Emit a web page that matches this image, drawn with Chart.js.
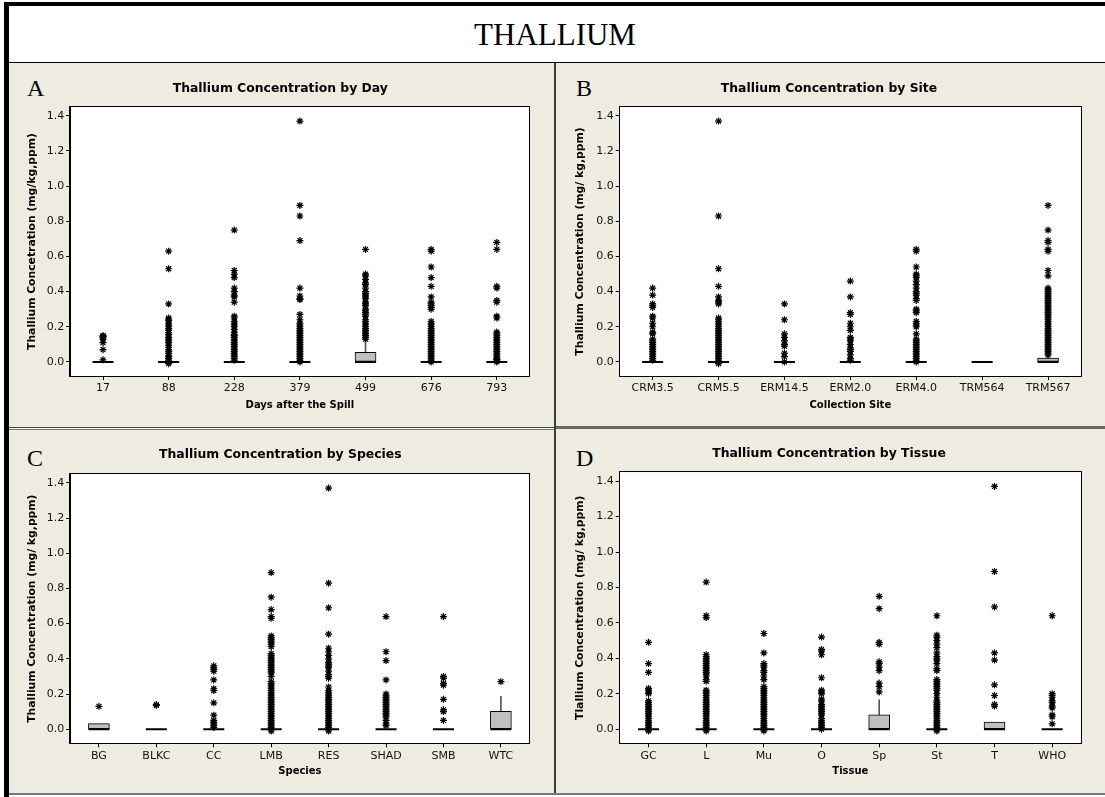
<!DOCTYPE html>
<html>
<head>
<meta charset="utf-8">
<title>Thallium</title>
<script src="https://cdn.jsdelivr.net/npm/chart.js@4.4.0/dist/chart.umd.min.js"></script>
<style>
  html, body { margin: 0; padding: 0; background: #ffffff; }
  #page { position: relative; width: 1105px; height: 797px; overflow: hidden; background: #ffffff; }
  .abs { position: absolute; }
  .beige { background: #eeebe1; }
  .serif { font-family: "Liberation Serif", "DejaVu Serif", serif; color: #000; line-height: 1; white-space: nowrap; }
  canvas { position: absolute; }
</style>
</head>
<body>
<div id="page">
  <!-- frame -->
  <div class="abs" style="left:4px;top:2px;width:1101px;height:4px;background:#000"></div>
  <div class="abs" style="left:4px;top:2px;width:5px;height:795px;background:#000"></div>
  <div class="abs serif" style="left:5px;top:19px;width:1100px;text-align:center;font-size:31px;line-height:31px">THALLIUM</div>
  <div class="abs" style="left:9px;top:62px;width:1096px;height:1px;background:#000"></div>
  <div class="abs beige" style="left:9px;top:63px;width:1096px;height:730px"></div>
  <div class="abs" style="left:554px;top:63px;width:2px;height:730px;background:#3c3c3c"></div>
  <div class="abs" style="left:9px;top:427px;width:545px;height:1px;background:#444"></div>
  <div class="abs" style="left:9px;top:428px;width:545px;height:1px;background:#fff"></div>
  <div class="abs" style="left:9px;top:429px;width:545px;height:1px;background:#777"></div>
  <div class="abs" style="left:556px;top:426px;width:549px;height:3px;background:#6a6a6a"></div>
  <div class="abs" style="left:9px;top:793px;width:1096px;height:2px;background:#777"></div>

  <div class="abs serif" style="left:27px;top:76px;font-size:24px;line-height:24px">A</div>
  <div class="abs serif" style="left:576px;top:76px;font-size:24px;line-height:24px">B</div>
  <div class="abs serif" style="left:27px;top:446px;font-size:24px;line-height:24px">C</div>
  <div class="abs serif" style="left:576px;top:446px;font-size:24px;line-height:24px">D</div>

  <canvas id="chartA" width="546" height="364" style="left:9px;top:63px"></canvas>
  <canvas id="chartB" width="549" height="364" style="left:556px;top:63px"></canvas>
  <canvas id="chartC" width="546" height="363" style="left:9px;top:430px"></canvas>
  <canvas id="chartD" width="549" height="363" style="left:556px;top:430px"></canvas>
</div>

<script>
// ---- Panel A: by day ----
const dayLabels = ['17', '88', '228', '379', '499', '676', '793'];
const dayQ1 = [0, 0, 0, 0, 0, 0, 0];
const dayMedian = [0, 0, 0, 0, 0, 0, 0];
const dayQ3 = [0, 0, 0, 0, 0.055, 0, 0];
const dayWhiskerHi = [0, 0, 0, 0, 0.13, 0, 0];
const dayOutliers = [
    [0.15, 0.145, 0.14, 0.13, 0.11, 0.07, 0.012],
    [0.63, 0.53, 0.33, 0.25, 0.24, 0.235, 0.22, 0.21, 0.2, 0.19, 0.18, 0.165, 0.155, 0.14, 0.13, 0.12, 0.11, 0.095, 0.085, 0.07, 0.06, 0.05, 0.035, 0.03, 0.02, 0.01, 0.0, -0.01],
    [0.75, 0.52, 0.5, 0.48, 0.42, 0.4, 0.38, 0.37, 0.34, 0.26, 0.25, 0.23, 0.22, 0.21, 0.2, 0.185, 0.17, 0.155, 0.15, 0.14, 0.13, 0.12, 0.11, 0.1, 0.09, 0.08, 0.07, 0.06, 0.05, 0.04, 0.03, 0.02, 0.01],
    [1.37, 0.89, 0.83, 0.69, 0.42, 0.375, 0.36, 0.355, 0.27, 0.24, 0.22, 0.21, 0.2, 0.19, 0.18, 0.17, 0.16, 0.15, 0.14, 0.13, 0.12, 0.11, 0.1, 0.09, 0.08, 0.07, 0.06, 0.05, 0.04, 0.03, 0.02, 0.01, 0.0],
    [0.64, 0.5, 0.49, 0.47, 0.45, 0.44, 0.42, 0.4, 0.39, 0.38, 0.37, 0.36, 0.34, 0.33, 0.32, 0.3, 0.29, 0.28, 0.27, 0.26, 0.24, 0.23, 0.22, 0.21, 0.2, 0.19, 0.18, 0.17, 0.16, 0.15, 0.14, 0.13],
    [0.64, 0.63, 0.54, 0.48, 0.43, 0.37, 0.34, 0.33, 0.32, 0.31, 0.3, 0.23, 0.22, 0.21, 0.2, 0.19, 0.18, 0.17, 0.16, 0.15, 0.14, 0.13, 0.12, 0.11, 0.1, 0.09, 0.08, 0.07, 0.06, 0.05, 0.04, 0.03, 0.02, 0.01, 0.0],
    [0.68, 0.64, 0.43, 0.42, 0.35, 0.34, 0.26, 0.25, 0.17, 0.16, 0.15, 0.14, 0.13, 0.12, 0.11, 0.1, 0.09, 0.08, 0.07, 0.06, 0.05, 0.04, 0.03, 0.02, 0.015, 0.01, 0.0]
];

// ---- Panel B: by site ----
const siteLabels = ['CRM3.5', 'CRM5.5', 'ERM14.5', 'ERM2.0', 'ERM4.0', 'TRM564', 'TRM567'];
const siteQ1 = [0, 0, 0, 0, 0, 0, 0];
const siteMedian = [0, 0, 0, 0, 0, 0, 0];
const siteQ3 = [0, 0, 0, 0, 0, 0, 0.022];
const siteWhiskerHi = [0, 0, 0, 0, 0, 0, 0.04];
const siteOutliers = [
    [0.42, 0.38, 0.33, 0.32, 0.31, 0.26, 0.25, 0.22, 0.2, 0.17, 0.16, 0.13, 0.12, 0.11, 0.1, 0.09, 0.08, 0.07, 0.06, 0.05, 0.04, 0.03, 0.02, 0.01],
    [1.37, 0.83, 0.53, 0.43, 0.37, 0.35, 0.34, 0.33, 0.25, 0.24, 0.23, 0.22, 0.21, 0.2, 0.19, 0.18, 0.17, 0.16, 0.15, 0.14, 0.13, 0.12, 0.11, 0.1, 0.09, 0.08, 0.07, 0.06, 0.05, 0.04, 0.03, 0.02, 0.01, 0.0, -0.01],
    [0.33, 0.24, 0.16, 0.14, 0.12, 0.1, 0.09, 0.05, 0.03, 0.0],
    [0.46, 0.37, 0.28, 0.27, 0.22, 0.2, 0.18, 0.14, 0.13, 0.12, 0.1, 0.08, 0.07, 0.06, 0.04, 0.02, 0.01],
    [0.64, 0.63, 0.54, 0.5, 0.49, 0.48, 0.46, 0.44, 0.42, 0.4, 0.39, 0.38, 0.36, 0.35, 0.3, 0.29, 0.28, 0.23, 0.22, 0.21, 0.2, 0.16, 0.13, 0.12, 0.11, 0.1, 0.09, 0.08, 0.07, 0.06, 0.05, 0.04, 0.03, 0.02, 0.01, 0.0],
    [],
    [0.89, 0.75, 0.69, 0.68, 0.64, 0.63, 0.52, 0.49, 0.42, 0.41, 0.4, 0.39, 0.38, 0.37, 0.36, 0.35, 0.34, 0.33, 0.32, 0.31, 0.3, 0.29, 0.28, 0.27, 0.26, 0.25, 0.24, 0.23, 0.22, 0.21, 0.2, 0.19, 0.18, 0.17, 0.16, 0.15, 0.14, 0.13, 0.12, 0.11, 0.1, 0.09, 0.08, 0.07, 0.06, 0.05, 0.04]
];

// ---- Panel C: by species ----
const speciesLabels = ['BG', 'BLKC', 'CC', 'LMB', 'RES', 'SHAD', 'SMB', 'WTC'];
const speciesQ1 = [0, 0, 0, 0, 0, 0, 0, 0];
const speciesMedian = [0, 0, 0, 0, 0, 0, 0, 0];
const speciesQ3 = [0.032, 0, 0, 0, 0, 0, 0, 0.102];
const speciesWhiskerHi = [0.032, 0, 0, 0, 0, 0, 0, 0.187];
const speciesOutliers = [
    [0.13],
    [0.14, 0.135],
    [0.36, 0.35, 0.34, 0.33, 0.28, 0.23, 0.22, 0.15, 0.08, 0.05, 0.04, 0.03, 0.02, 0.01],
    [0.89, 0.75, 0.68, 0.64, 0.63, 0.53, 0.52, 0.51, 0.5, 0.49, 0.48, 0.47, 0.43, 0.42, 0.41, 0.4, 0.39, 0.38, 0.37, 0.36, 0.35, 0.34, 0.33, 0.32, 0.3, 0.27, 0.26, 0.25, 0.24, 0.23, 0.22, 0.21, 0.2, 0.19, 0.18, 0.17, 0.16, 0.15, 0.14, 0.13, 0.12, 0.11, 0.1, 0.09, 0.08, 0.07, 0.06, 0.05, 0.04, 0.03, 0.02, 0.01, 0.0, -0.01],
    [1.37, 0.83, 0.69, 0.54, 0.46, 0.44, 0.42, 0.4, 0.38, 0.37, 0.36, 0.35, 0.33, 0.31, 0.3, 0.29, 0.24, 0.22, 0.21, 0.2, 0.19, 0.18, 0.17, 0.16, 0.15, 0.14, 0.13, 0.12, 0.11, 0.1, 0.09, 0.08, 0.07, 0.06, 0.05, 0.04, 0.03, 0.02, 0.01, 0.0, -0.01],
    [0.64, 0.44, 0.39, 0.28, 0.2, 0.19, 0.18, 0.17, 0.16, 0.15, 0.14, 0.13, 0.12, 0.11, 0.1, 0.09, 0.08, 0.07, 0.05, 0.03, 0.02],
    [0.64, 0.3, 0.29, 0.26, 0.25, 0.17, 0.11, 0.1, 0.05],
    [0.27]
];

// ---- Panel D: by tissue ----
const tissueLabels = ['GC', 'L', 'Mu', 'O', 'Sp', 'St', 'T', 'WHO'];
const tissueQ1 = [0, 0, 0, 0, 0, 0, 0, 0];
const tissueMedian = [0, 0, 0, 0, 0, 0, 0, 0];
const tissueQ3 = [0, 0, 0, 0, 0.081, 0, 0.04, 0];
const tissueWhiskerHi = [0, 0, 0, 0, 0.166, 0, 0.04, 0];
const tissueOutliers = [
    [0.49, 0.37, 0.32, 0.23, 0.22, 0.21, 0.2, 0.16, 0.15, 0.14, 0.13, 0.12, 0.11, 0.1, 0.09, 0.08, 0.07, 0.06, 0.05, 0.04, 0.03, 0.02, 0.01, 0.0, -0.01],
    [0.83, 0.64, 0.63, 0.42, 0.41, 0.4, 0.39, 0.38, 0.37, 0.36, 0.35, 0.34, 0.33, 0.32, 0.31, 0.3, 0.28, 0.27, 0.22, 0.21, 0.2, 0.19, 0.18, 0.17, 0.16, 0.15, 0.14, 0.13, 0.12, 0.11, 0.1, 0.09, 0.08, 0.07, 0.06, 0.05, 0.04, 0.03, 0.02, 0.01, 0.0, -0.01],
    [0.54, 0.43, 0.37, 0.36, 0.35, 0.33, 0.32, 0.3, 0.28, 0.24, 0.23, 0.22, 0.21, 0.2, 0.19, 0.18, 0.17, 0.16, 0.15, 0.14, 0.13, 0.12, 0.11, 0.1, 0.09, 0.08, 0.07, 0.06, 0.05, 0.04, 0.03, 0.02, 0.01, 0.0, -0.01],
    [0.52, 0.45, 0.44, 0.42, 0.29, 0.22, 0.21, 0.2, 0.17, 0.16, 0.14, 0.13, 0.12, 0.11, 0.1, 0.09, 0.08, 0.06, 0.05, 0.04, 0.03, 0.02, 0.01, 0.0],
    [0.75, 0.68, 0.49, 0.48, 0.38, 0.37, 0.35, 0.33, 0.26, 0.24, 0.21],
    [0.64, 0.53, 0.52, 0.5, 0.48, 0.46, 0.43, 0.41, 0.4, 0.39, 0.37, 0.34, 0.33, 0.28, 0.27, 0.26, 0.25, 0.24, 0.23, 0.22, 0.2, 0.18, 0.16, 0.15, 0.14, 0.13, 0.12, 0.11, 0.1, 0.09, 0.08, 0.07, 0.06, 0.05, 0.04, 0.03, 0.02, 0.01, 0.0, -0.01],
    [1.37, 0.89, 0.69, 0.43, 0.39, 0.25, 0.19, 0.14, 0.13],
    [0.64, 0.2, 0.19, 0.18, 0.16, 0.15, 0.13, 0.12, 0.08, 0.07, 0.03]
];

const yTicks = { min: -0.08, max: 1.45, step: 0.2 };
const FONT = '"DejaVu Sans", Verdana, sans-serif';

// white plot area + black frame around it
const plotFrame = {
    id: 'plotFrame',
    beforeDraw(chart) {
        const a = chart.chartArea, ctx = chart.ctx;
        ctx.save();
        ctx.fillStyle = '#ffffff';
        ctx.fillRect(a.left, a.top, a.right - a.left, a.bottom - a.top);
        ctx.restore();
    },
    afterDraw(chart) {
        const a = chart.chartArea, ctx = chart.ctx;
        ctx.save();
        ctx.strokeStyle = '#000';
        ctx.lineWidth = 1;
        ctx.strokeRect(Math.round(a.left) - 0.5, Math.round(a.top) - 0.5,
            Math.round(a.right - a.left) + 1, Math.round(a.bottom - a.top) + 1);
        ctx.restore();
    }
};

function boxPlot(id, g, labels, q1, med, q3, whiskerHi, outliers, title, xTitle, yTitle) {
    const outlierPts = [];
    outliers.forEach((vals, i) => vals.forEach(v => outlierPts.push({ x: labels[i], y: v })));
    const medianPts = labels.map((l, i) => ({ x: l, y: med[i] }));
    const boxes = labels.map((l, i) => [q1[i], q3[i]]);
    const whiskers = labels.map((l, i) => whiskerHi[i] > q3[i] ? [q3[i], whiskerHi[i]] : null);

    const titleLH = 12.4 * 1.2;
    const titlePadTop = g.titleY - titleLH / 2;

    return new Chart(document.getElementById(id), {
        type: 'bar',
        data: {
            labels: labels,
            datasets: [
                {
                    type: 'scatter',
                    data: outlierPts,
                    pointStyle: 'star',
                    pointRadius: 3.5,
                    borderColor: '#000',
                    backgroundColor: '#000',
                    borderWidth: 1.2
                },
                {
                    type: 'scatter',
                    data: medianPts,
                    pointStyle: 'line',
                    pointRadius: 10.5,
                    borderColor: '#000',
                    borderWidth: 2
                },
                {
                    data: boxes,
                    grouped: false,
                    barThickness: 21,
                    backgroundColor: '#c0c0c0',
                    borderColor: '#000',
                    borderWidth: 1,
                    borderSkipped: false
                },
                {
                    data: whiskers,
                    grouped: false,
                    barThickness: 1,
                    backgroundColor: '#555',
                    borderWidth: 0
                }
            ]
        },
        options: {
            responsive: false,
            animation: false,
            events: [],
            layout: { padding: { left: g.padL, right: g.padR, top: 0, bottom: 0 } },
            plugins: {
                legend: { display: false },
                tooltip: { enabled: false },
                title: {
                    display: true,
                    text: title,
                    color: '#000',
                    font: { family: FONT, size: 12.4, weight: 'bold', lineHeight: 1.2 },
                    padding: { top: titlePadTop, bottom: g.plotTop - titleLH - titlePadTop }
                }
            },
            scales: {
                x: {
                    type: 'category',
                    offset: true,
                    grid: { display: true, drawOnChartArea: false, drawTicks: true, tickLength: 4, offset: false, color: '#000' },
                    border: { display: true, color: '#000' },
                    ticks: { color: '#111', font: { family: FONT, size: 11 }, padding: 2, maxRotation: 0, autoSkip: false },
                    title: {
                        display: true, text: xTitle, color: '#000',
                        font: { family: FONT, size: 10, weight: 'bold', lineHeight: 1.2 },
                        padding: { top: 0, bottom: g.xTitleOff - 6 }
                    },
                    afterFit: s => { s.height = g.xAxisH; }
                },
                y: {
                    type: 'linear',
                    min: yTicks.min,
                    max: yTicks.max,
                    grid: { display: true, drawOnChartArea: false, drawTicks: true, tickLength: 4, color: '#000' },
                    border: { display: true, color: '#000' },
                    ticks: {
                        stepSize: yTicks.step, includeBounds: false, color: '#111', padding: 2,
                        font: { family: FONT, size: 11 },
                        callback: v => v.toFixed(1)
                    },
                    title: {
                        display: true, text: yTitle, color: '#000',
                        font: { family: FONT, size: 10.8, weight: 'bold', lineHeight: 0.2 },
                        padding: { top: g.yTitleOff - 1, bottom: 0 }
                    },
                    afterFit: s => { s.width = g.yAxisW; }
                }
            }
        },
        plugins: [plotFrame]
    });
}

const geomA = { padL: 22, padR: 25.4, yAxisW: 39.2, yTitleOff: 1, titleY: 25.3, plotTop: 44, xAxisH: 51, xTitleOff: 22 };
const geomB = { padL: 21, padR: 24, yAxisW: 42.7, yTitleOff: 3.6, titleY: 25.3, plotTop: 44, xAxisH: 51, xTitleOff: 22 };
const geomC = { padL: 22, padR: 25.4, yAxisW: 39.2, yTitleOff: 1, titleY: 25, plotTop: 44, xAxisH: 49.7, xTitleOff: 21.3 };
const geomD = { padL: 21, padR: 24, yAxisW: 42.7, yTitleOff: 3.6, titleY: 24, plotTop: 42.3, xAxisH: 49.7, xTitleOff: 21.3 };

boxPlot('chartA', geomA, dayLabels, dayQ1, dayMedian, dayQ3, dayWhiskerHi, dayOutliers,
    'Thallium Concentration by Day', 'Days after the Spill', 'Thallium Concetration (mg/kg,ppm)');
boxPlot('chartB', geomB, siteLabels, siteQ1, siteMedian, siteQ3, siteWhiskerHi, siteOutliers,
    'Thallium Concentration by Site', 'Collection Site', 'Thallium Concentration (mg/ kg,ppm)');
boxPlot('chartC', geomC, speciesLabels, speciesQ1, speciesMedian, speciesQ3, speciesWhiskerHi, speciesOutliers,
    'Thallium Concentration by Species', 'Species', 'Thallium Concentration (mg/ kg,ppm)');
boxPlot('chartD', geomD, tissueLabels, tissueQ1, tissueMedian, tissueQ3, tissueWhiskerHi, tissueOutliers,
    'Thallium Concentration by Tissue', 'Tissue', 'Tlallium Concentration (mg/ kg,ppm)');
</script>
</body>
</html>
